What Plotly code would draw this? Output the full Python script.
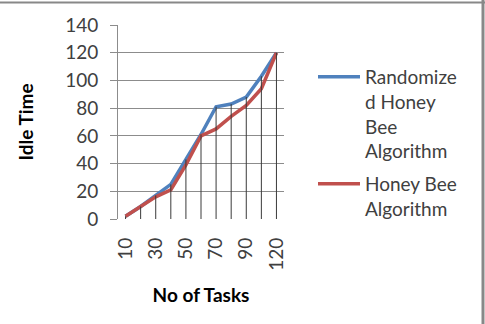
import plotly.graph_objects as go

tasks = ["10", "20", "30", "40", "50", "60", "70", "80", "90", "100", "120"]
randomized = [2, 9, 17, 25, 43, 61, 81, 83, 88, 103, 120]
honey_bee = [2, 9, 16, 21, 39, 60, 65, 74, 82, 94, 120]
shown_ticks = ["10", "30", "50", "70", "90", "120"]
y_ticks = [0, 20, 40, 60, 80, 100, 120, 140]

W, H = 485, 324
L, R, T, B = 118, 201, 25, 105
pw, ph = W - L - R, H - T - B

def px(x):
    return (x - L) / pw

def py(y):
    return (H - B - y) / ph

FS = 19
fig = go.Figure()
fig.add_trace(go.Scatter(x=tasks, y=randomized, mode="lines",
                         name="Randomize<br>d Honey<br>Bee<br>Algorithm",
                         legendgroup="rhb",
                         line=dict(color="#4F81BD", width=3.5)))
fig.add_trace(go.Scatter(x=tasks, y=honey_bee, mode="lines",
                         name="Honey Bee<br>Algorithm",
                         legendgroup="hb",
                         line=dict(color="#C0504D", width=3.5)))

dx, dy = [], []
for t, a, b in zip(tasks, randomized, honey_bee):
    dx += [t, t, None]
    dy += [0, max(a, b), None]
fig.add_trace(go.Scatter(x=dx, y=dy, mode="lines", showlegend=False,
                         hoverinfo="skip", line=dict(color="#3a3a3a", width=1)))

fig.update_layout(
    width=W, height=H,
    margin=dict(l=L, r=R, t=T, b=B),
    paper_bgcolor="white", plot_bgcolor="white",
    font=dict(family="Lato", size=FS, color="#404040"),
    showlegend=True,
    legend=dict(x=px(313), y=py(58), xanchor="left", yanchor="top",
                valign="top", itemwidth=42, bgcolor="rgba(0,0,0,0)",
                font=dict(family="Lato", size=FS, color="#404040"),
                tracegroupgap=5),
    xaxis=dict(type="category", categoryorder="array", categoryarray=tasks,
               tickmode="array", tickvals=shown_ticks, ticktext=shown_ticks,
               tickangle=-90, showgrid=False, zeroline=False, showline=False,
               ticks="", ticklabelstandoff=14,
               title=dict(text="<b>No of Tasks</b>", standoff=18,
                          font=dict(family="Lato", size=FS, color="#000000")),
               range=[-0.5, 10.5]),
    yaxis=dict(range=[0, 140], tickvals=y_ticks, showgrid=True,
               gridcolor="#8c8c8c", gridwidth=1, zeroline=False,
               showline=True, linecolor="#8c8c8c", linewidth=1,
               ticks="outside", ticklen=7, tickcolor="#8c8c8c",
               ticklabelstandoff=8,
               title=dict(text="<b>Idle Time</b>", standoff=26,
                          font=dict(family="Lato", size=FS, color="#000000"))),
    shapes=[
        dict(type="line", xref="paper", yref="paper", x0=px(0), x1=px(W),
             y0=py(2.5), y1=py(2.5), line=dict(color="#888888", width=2)),
        dict(type="line", xref="paper", yref="paper", x0=px(483), x1=px(483),
             y0=py(0), y1=py(H), line=dict(color="#888888", width=3)),
    ],
)

fig.write_html("out.html")
